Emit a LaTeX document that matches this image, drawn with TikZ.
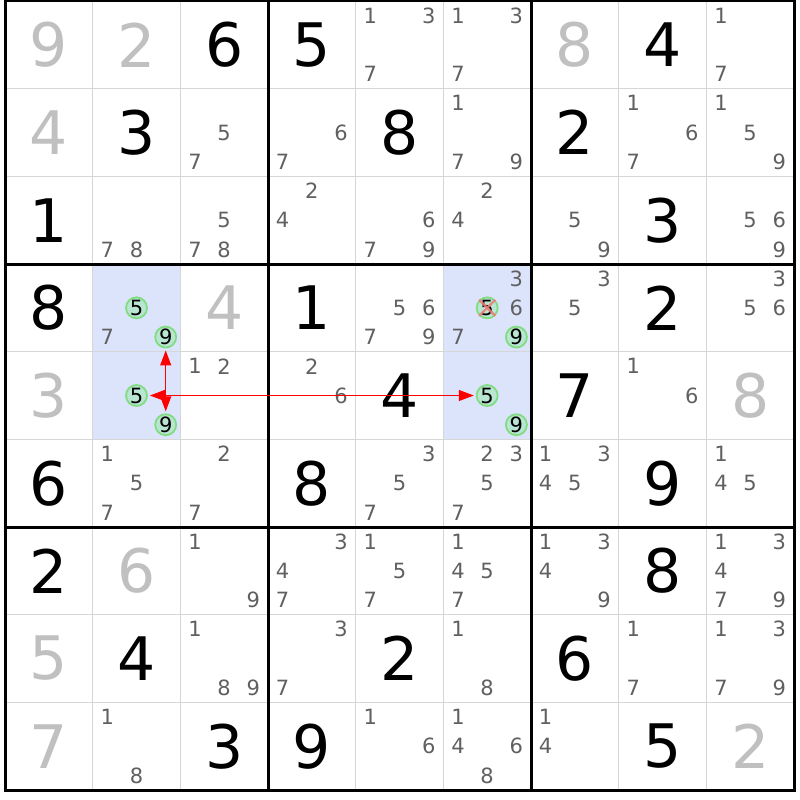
\documentclass[tikz,border=0pt]{standalone}
\usepackage{fontspec}
\setmainfont{DejaVu Sans}
\usetikzlibrary{arrows.meta}
\definecolor{givgray}{RGB}{192,192,192}
\definecolor{candgray}{RGB}{96,96,96}
\definecolor{thingray}{RGB}{214,214,214}
\definecolor{hilite}{RGB}{220,228,252}
\definecolor{circline}{RGB}{130,220,130}
\definecolor{circfill}{RGB}{184,230,210}
\definecolor{crossred}{RGB}{240,120,120}
\definecolor{G}{RGB}{192,192,192}
\definecolor{B}{RGB}{0,0,0}
\begin{document}
\begin{tikzpicture}[x=1pt,y=-1pt,
  big/.style={inner sep=0pt,font=\fontsize{60}{60}\selectfont},
  cand/.style={inner sep=0pt,text=candgray,font=\fontsize{21}{21}\selectfont},
  circ/.style={circle,draw=circline,fill=circfill,line width=1.8pt,minimum size=21pt,inner sep=0pt,text=black,font=\fontsize{21}{21}\selectfont},
  thinline/.style={draw=thingray,line width=1.6pt},
  thickline/.style={draw=black,line width=3pt},
  linkarrow/.style={draw=red,line width=1pt,-{Triangle[length=15pt,width=11pt]},shorten >=2pt},
  crossline/.style={draw=crossred,line width=2.4pt,opacity=0.85}]
\def\cs{87.667}
\useasboundingbox (0,0) rectangle (800,800);
\fill[white] (0,0) rectangle (800,800);
% highlighted cells
\foreach \r/\c in {4/2,5/2,4/6,5/6}
  \fill[hilite] ({5+(\c-1)*\cs},{1+(\r-1)*\cs}) rectangle ++(\cs,\cs);
% thin grid
\foreach \i in {1,2,4,5,7,8} {
  \draw[thinline] ({5+\i*\cs},1) -- ({5+\i*\cs},790);
  \draw[thinline] (5,{1+\i*\cs}) -- (794,{1+\i*\cs});
}
% thick grid
\foreach \i in {3,6} {
  \draw[thickline] ({5+\i*\cs},1) -- ({5+\i*\cs},790);
  \draw[thickline] (5,{1+\i*\cs}) -- (794,{1+\i*\cs});
}
\draw[thickline] (5,1) rectangle (794,790);
% big digits
\foreach \r/\c/\d/\col in {
  1/1/9/G,1/2/2/G,1/3/6/B,1/4/5/B,1/7/8/G,1/8/4/B,
  2/1/4/G,2/2/3/B,2/5/8/B,2/7/2/B,
  3/1/1/B,3/8/3/B,
  4/1/8/B,4/3/4/G,4/4/1/B,4/8/2/B,
  5/1/3/G,5/5/4/B,5/7/7/B,5/9/8/G,
  6/1/6/B,6/4/8/B,6/8/9/B,
  7/1/2/B,7/2/6/G,7/8/8/B,
  8/1/5/G,8/2/4/B,8/5/2/B,8/7/6/B,
  9/1/7/G,9/3/3/B,9/4/9/B,9/8/5/B,9/9/2/G}
  \node[big,text=\col] (g\r\c) at ({5+(\c-0.5)*\cs},{1+(\r-0.5)*\cs}) {\d};
% plain candidates
\foreach \r/\c/\ds in {
  1/5/{1,3,7},1/6/{1,3,7},1/9/{1,7},
  2/3/{5,7},2/4/{6,7},2/6/{1,7,9},2/8/{1,6,7},2/9/{1,5,9},
  3/2/{7,8},3/3/{5,7,8},3/4/{2,4},3/5/{6,7,9},3/6/{2,4},3/7/{5,9},3/9/{5,6,9},
  4/2/{7},4/5/{5,6,7,9},4/6/{3,6,7},4/7/{3,5},4/9/{3,5,6},
  5/3/{1,2},5/4/{2,6},5/8/{1,6},
  6/2/{1,5,7},6/3/{2,7},6/5/{3,5,7},6/6/{2,3,5,7},6/7/{1,3,4,5},6/9/{1,4,5},
  7/3/{1,9},7/4/{3,4,7},7/5/{1,5,7},7/6/{1,4,5,7},7/7/{1,3,4,9},7/9/{1,3,4,7,9},
  8/3/{1,8,9},8/4/{3,7},8/6/{1,8},8/8/{1,7},8/9/{1,3,7,9},
  9/2/{1,8},9/5/{1,6},9/6/{1,4,6,8},9/7/{1,4}}
{
  \foreach \d in \ds {
    \pgfmathsetmacro\px{5+(\c-1)*\cs+(mod(\d-1,3)+0.5)*\cs/3}
    \pgfmathsetmacro\py{1+(\r-1)*\cs+(floor((\d-1)/3)+0.5)*\cs/3}
    \node[cand] (k\r\c\d) at (\px,\py) {\d};
  }
}
% circled candidates
\foreach \r/\c/\d in {4/2/5,4/2/9,5/2/5,5/2/9,4/6/5,4/6/9,5/6/5,5/6/9} {
  \pgfmathsetmacro\px{5+(\c-1)*\cs+(mod(\d-1,3)+0.5)*\cs/3}
  \pgfmathsetmacro\py{1+(\r-1)*\cs+(floor((\d-1)/3)+0.5)*\cs/3}
  \node[circ] (k\r\c\d) at (\px,\py) {\d};
}
% elimination cross
\draw[crossline] ([shift={(-8,-8)}]k465.center) -- ([shift={(8,8)}]k465.center);
\draw[crossline] ([shift={(8,-8)}]k465.center) -- ([shift={(-8,8)}]k465.center);
% link arrows
\coordinate (J) at (k529 |- k525);
\draw[linkarrow] (J) -- (k429);
\draw[linkarrow] (J) -- (k529);
\draw[linkarrow] (J) -- (k525);
\draw[linkarrow] (J) -- (k565);
\end{tikzpicture}
\end{document}
